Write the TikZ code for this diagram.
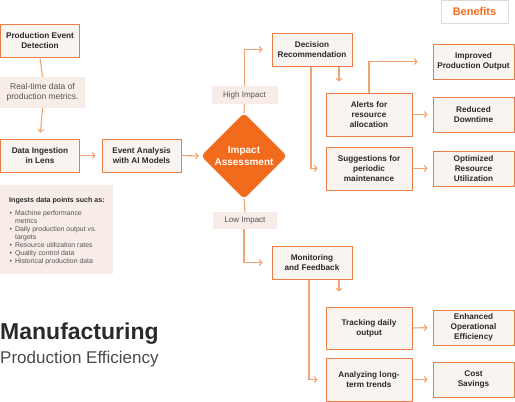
\documentclass[tikz,border=0pt]{standalone}
\usepackage{fontspec}
\setmainfont{Liberation Sans}
\usetikzlibrary{arrows.meta,shapes.geometric}
\definecolor{orng}{HTML}{F26A1B}
\definecolor{bord}{HTML}{EC7D40}
\definecolor{conn}{HTML}{F2A36F}
\definecolor{boxfill}{HTML}{F8F4F2}
\definecolor{lblfill}{HTML}{F7ECE7}
\definecolor{txt}{HTML}{2A2A2A}
\definecolor{gtxt}{HTML}{555555}
\definecolor{bengray}{HTML}{DADADA}
\begin{document}
\begin{tikzpicture}[x=1pt,y=-1pt,
  box/.style={draw=bord, line width=1pt, fill=boxfill, inner sep=1pt, align=center, text=txt,
    font=\fontsize{8.2}{10}\selectfont\bfseries},
  lbl/.style={fill=lblfill, inner sep=0pt, align=center, text=gtxt, font=\fontsize{8}{10}\selectfont},
  conline/.style={draw=conn, line width=1.1pt},
  arr/.style={conline, -{Straight Barb[length=2.5pt,width=6pt]}},
]
\useasboundingbox (0,0) rectangle (515,402);

% left column
\node[box, minimum width=79pt, minimum height=33pt] (ped) at (40,40.5) {Production Event\\Detection};
\node[lbl, minimum width=85pt, minimum height=31pt, font=\fontsize{8.5}{10}\selectfont] (rt) at (42.5,92.5) {Real-time data of\\production metrics.};
\node[box, minimum width=79pt, minimum height=33pt] (di) at (40,155.5) {Data Ingestion\\in Lens};
\node[box, minimum width=79pt, minimum height=33pt] (ea) at (141.5,155.5) {Event Analysis\\with AI Models};

% impact diamond
\node[diamond, fill=orng, minimum width=86pt, minimum height=86pt, inner sep=0pt, rounded corners=4pt,
  text=white, align=center, font=\fontsize{10}{12}\selectfont\bfseries] (ia) at (244,156) {Impact\\Assessment};
\node[lbl, minimum width=66pt, minimum height=18pt] (hi) at (244.5,95) {High Impact};
\node[lbl, minimum width=64pt, minimum height=17pt] (lo) at (245,220.5) {Low Impact};

% upper branch
\node[box, minimum width=80pt, minimum height=33pt] (dr) at (312,49.5) {Decision\\Recommendation};
\node[box, minimum width=86pt, minimum height=43pt] (al) at (369,114.5) {Alerts for\\resource\\allocation};
\node[box, minimum width=86pt, minimum height=43pt] (sg) at (369,168.5) {Suggestions for\\periodic\\maintenance};
\node[box, minimum width=81pt, minimum height=35pt] (ipo) at (473.5,61.5) {Improved\\Production Output};
\node[box, minimum width=81pt, minimum height=35pt] (rd) at (473.5,114.5) {Reduced\\Downtime};
\node[box, minimum width=81pt, minimum height=35pt] (oru) at (473.5,168.5) {Optimized\\Resource\\Utilization};
\node[draw=bengray, fill=white, line width=0.8pt, minimum width=67pt, minimum height=23pt, text=orng,
  font=\fontsize{11}{13}\selectfont\bfseries] (ben) at (474.5,12) {Benefits};

% lower branch
\node[box, minimum width=80pt, minimum height=33pt] (mf) at (312,262.5) {Monitoring\\and Feedback};
\node[box, minimum width=86pt, minimum height=42pt] (td) at (369,328) {Tracking daily\\output};
\node[box, minimum width=86pt, minimum height=43pt] (at) at (369,379.5) {Analyzing long-\\term trends};
\node[box, minimum width=81pt, minimum height=35pt] (eoe) at (473.5,327.5) {Enhanced\\Operational\\Efficiency};
\node[box, minimum width=81pt, minimum height=35pt] (cs) at (473.5,379.5) {Cost\\Savings};

% connectors
\draw[conline] (ped.south) -- (rt.north);
\draw[arr, shorten >=6pt] (rt.south) -- (di.north);
\draw[arr, shorten >=6pt] (di.east) -- (ea.west);
\draw[arr, shorten >=2pt] (ea.east) -- (ia.west);
\draw[conline] (ia.north) -- (hi.south);
\draw[arr, shorten >=9pt] (hi.north) |- (dr.west);
\draw[arr, shorten >=11pt] ([xshift=27pt]dr.south) -- ([xshift=27pt]dr.south |- al.north);
\draw[arr, shorten >=8pt] ([xshift=-1pt]dr.south) |- (sg.west);
\draw[arr, shorten >=15pt] (al.north) |- (ipo.west);
\draw[arr, shorten >=5pt] (al.east) -- (rd.west);
\draw[arr, shorten >=5pt] (sg.east) -- (oru.west);
\draw[conline] (ia.south) -- (lo.north);
\draw[arr, shorten >=9pt] ([xshift=-1pt]lo.south) |- (mf.west);
\draw[arr, shorten >=15pt] ([xshift=27pt]mf.south) -- ([xshift=27pt]mf.south |- td.north);
\draw[arr, shorten >=8pt] ([xshift=-3pt]mf.south) |- (at.west);
\draw[arr, shorten >=5pt] (td.east) -- (eoe.west);
\draw[arr, shorten >=5pt] (at.east) -- (cs.west);

% ingests box
\node[fill=lblfill, minimum width=113pt, minimum height=89pt, inner sep=0pt] (ing) at (56.5,229.5) {};
\node[anchor=base west, inner sep=0pt, text=txt, font=\fontsize{7.1}{8}\selectfont\bfseries] (ingt) at (9,202.5) {Ingests data points such as:};
\node[anchor=base west, inner sep=0pt, text=gtxt, font=\fontsize{6.9}{8}\selectfont] (ingl) at (9.5,215.5)
  {\begin{tabular}[t]{@{}l@{\hspace{3pt}}l@{}}
   \textbullet & Machine performance\\
   & metrics\\
   \textbullet & Daily production output vs.\\
   & targets\\
   \textbullet & Resource utilization rates\\
   \textbullet & Quality control data\\
   \textbullet & Historical production data
   \end{tabular}};

% title
\node[anchor=base west, inner sep=0pt, text=txt, font=\fontsize{23}{27}\selectfont\bfseries] (t1) at (0,339) {Manufacturing};
\node[anchor=base west, inner sep=0pt, text=txt!85, font=\fontsize{17}{20}\selectfont] (t2) at (0,363) {Production Efficiency};
\end{tikzpicture}
\end{document}
